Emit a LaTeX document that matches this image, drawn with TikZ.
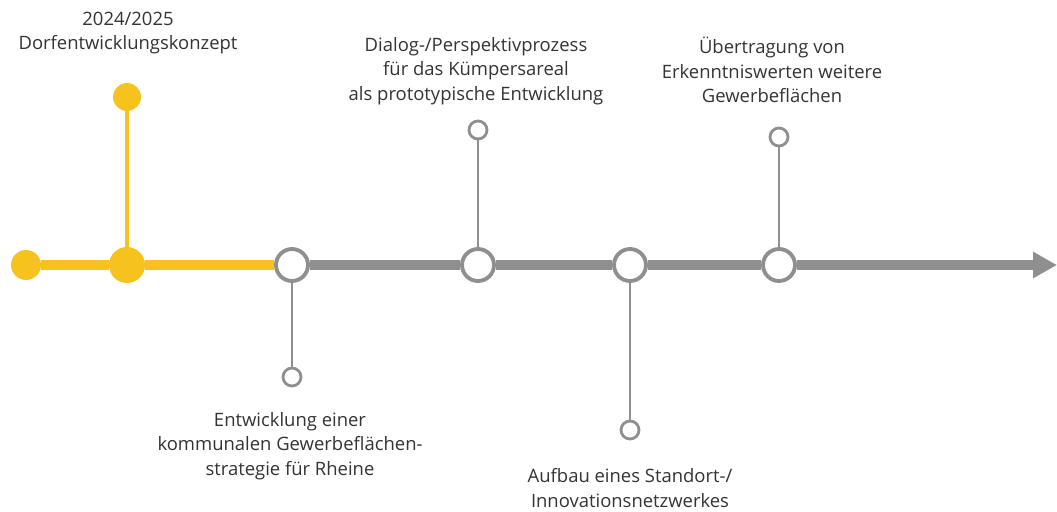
\documentclass[tikz,border=0pt]{standalone}
\usepackage{fontspec}
\setmainfont{Open Sans}
\usetikzlibrary{arrows.meta}

\definecolor{gelb}{HTML}{F6C31E}
\definecolor{grau}{HTML}{8F8F8F}
\definecolor{schrift}{HTML}{333333}

\tikzset{
  punkt/.style={circle, fill=gelb, inner sep=0pt, minimum size=#1},
  ring/.style={circle, draw=grau, line width=2.2pt, fill=white, inner sep=0pt, minimum size=#1},
  kleinring/.style={circle, draw=grau, line width=1.6pt, fill=white, inner sep=0pt, minimum size=#1},
  beschriftung/.style={align=center, text=schrift, font=\fontsize{10.5}{13.8}\selectfont},
}

\begin{document}
\begin{tikzpicture}[x=0.02cm, y=-0.02cm]

        \useasboundingbox (0,0) rectangle (1057,511);

        % gelber Abschnitt
        \node[punkt=0.60cm] (start) at (26,265) {};
        \node[punkt=0.72cm] (jahr) at (127,265) {};
        \node[punkt=0.56cm] (konzept) at (127,97) {};

        % Stationen auf der Zeitachse
        \node[ring=0.64cm] (strategie) at (292,265) {};
        \node[ring=0.64cm] (dialog) at (478,265) {};
        \node[ring=0.64cm] (netzwerk) at (630,265) {};
        \node[ring=0.64cm] (transfer) at (779,265) {};
        \coordinate (ende) at (1057,265);

        % Zweige
        \node[kleinring=0.36cm] (strategie-z) at (292,377) {};
        \node[kleinring=0.36cm] (dialog-z) at (478,130) {};
        \node[kleinring=0.36cm] (netzwerk-z) at (630,430) {};
        \node[kleinring=0.36cm] (transfer-z) at (779,137) {};

        \draw[gelb, line width=5.6pt] (start) -- (jahr) -- (strategie);
        \draw[gelb, line width=2.2pt] (jahr) -- (konzept);

        \draw[grau, line width=5.6pt] (strategie) -- (dialog);
        \draw[grau, line width=5.6pt] (dialog) -- (netzwerk);
        \draw[grau, line width=5.6pt] (netzwerk) -- (transfer);
        \draw[grau, line width=5.6pt, -{Triangle[length=0.48cm, width=0.5cm]}]
        (transfer) -- (ende);

        \draw[grau, line width=1.6pt] (strategie) -- (strategie-z);
        \draw[grau, line width=1.6pt] (dialog) -- (dialog-z);
        \draw[grau, line width=1.6pt] (netzwerk) -- (netzwerk-z);
        \draw[grau, line width=1.6pt] (transfer) -- (transfer-z);

        % Texte
        \node[beschriftung] (t-konzept) at (128,33)
        {2024/2025\\Dorfentwicklungskonzept};
        \node[beschriftung] (t-dialog) at (476,71)
        {Dialog-/Perspektivprozess\\für das Kümpersareal\\als prototypische Entwicklung};
        \node[beschriftung] (t-transfer) at (772,70)
        {Übertragung von\\Erkenntniswerten weitere\\Gewerbeflächen};
        \node[beschriftung] (t-strategie) at (290,446)
        {Entwicklung einer\\kommunalen Gewerbeflächen-\\strategie für Rheine};
        \node[beschriftung] (t-netzwerk) at (630,488)
        {Aufbau eines Standort-/\\Innovationsnetzwerkes};

\end{tikzpicture}
\end{document}
